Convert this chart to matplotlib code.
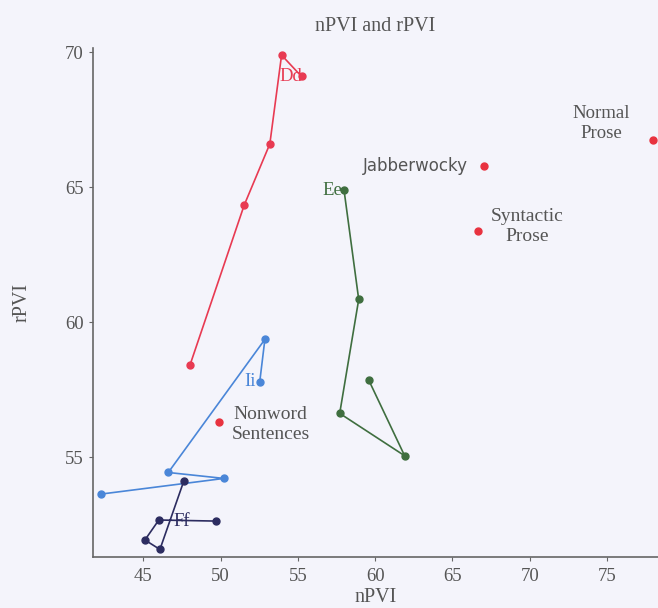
import matplotlib.pyplot as plt

# --- data ---
dd_x = [48.02, 51.53, 53.19, 53.95, 55.24]
dd_y = [58.40, 64.33, 66.60, 69.89, 69.10]

ee_x = [57.99, 58.94, 57.71, 61.91, 59.59]
ee_y = [64.89, 60.84, 56.62, 55.05, 57.85]

ii_x = [52.54, 52.87, 46.62, 50.22, 42.27]
ii_y = [57.80, 59.36, 54.43, 54.21, 53.63]

ff_x = [49.70, 46.01, 45.11, 46.08, 47.63]
ff_y = [52.63, 52.67, 51.93, 51.58, 54.12]

cond_names = ['Jabberwocky', 'Syntactic\nProse', 'Normal\nProse', 'Nonword\nSentences']
cond_x = [67.04, 66.65, 77.97, 49.91]
cond_y = [65.78, 63.37, 66.74, 56.29]

xticks = [45, 50, 55, 60, 65, 70, 75]
yticks = [55, 60, 65, 70]

bg = '#f4f4fb'
txt = '#555555'
serif = 'Liberation Serif'

fig = plt.figure(figsize=(6.58, 6.08), dpi=100, facecolor=bg)
ax = fig.add_axes([0.1413, 0.0839, 0.8587, 0.837], facecolor=bg)

ax.plot(dd_x, dd_y, '-o', color='#e83a52', lw=1.2, ms=5)
ax.plot(ee_x, ee_y, '-o', color='#3f6e3f', lw=1.2, ms=5)
ax.plot(ii_x, ii_y, '-o', color='#4a86d8', lw=1.2, ms=5)
ax.plot(ff_x, ff_y, '-o', color='#2c2c60', lw=1.2, ms=5)
ax.plot(cond_x, cond_y, 'o', color='#e8323f', ms=5, clip_on=False)

# series labels
ax.text(54.55, 69.1, 'Dd', color='#e83a52', fontsize=13.5, family=serif, ha='center', va='center')
ax.text(57.9, 64.89, 'Ee', color='#3f6e3f', fontsize=13.5, family=serif, ha='right', va='center')
ax.text(51.9, 57.8, 'Ii', color='#4a86d8', fontsize=13.5, family=serif, ha='center', va='center')
ax.text(47.5, 52.63, 'Ff', color='#2c2c60', fontsize=13.5, family=serif, ha='center', va='center')

# condition labels
ax.text(66.0, 65.78, cond_names[0], color=txt, fontsize=12, ha='right', va='center')
ax.text(69.85, 63.53, cond_names[1], color=txt, fontsize=14, family=serif, ha='center', va='center', linespacing=1.25)
ax.text(74.63, 67.37, cond_names[2], color=txt, fontsize=13.5, family=serif, ha='center', va='center', linespacing=1.25)
ax.text(53.24, 56.22, cond_names[3], color=txt, fontsize=14, family=serif, ha='center', va='center', linespacing=1.25)

ax.set_xlim(41.75, 78.3)
ax.set_ylim(51.3, 70.15)
ax.set_xticks(xticks)
ax.set_yticks(yticks)
for s in ['top', 'right']:
    ax.spines[s].set_visible(False)
for s in ['left', 'bottom']:
    ax.spines[s].set_color('#666666')
    ax.spines[s].set_linewidth(1.2)
ax.tick_params(colors='#666666', labelcolor=txt, length=3, labelsize=13.5)
ax.tick_params(axis='x', pad=5)
for lab in ax.get_xticklabels() + ax.get_yticklabels():
    lab.set_family(serif)

ax.set_xlabel('nPVI', fontsize=14.5, color=txt, family=serif, labelpad=2)
ax.set_ylabel('rPVI', fontsize=14.5, color=txt, family=serif, labelpad=24)
ax.set_title('nPVI and rPVI', fontsize=14.5, color=txt, family=serif, pad=12)

fig.savefig('out.png', dpi=100, facecolor=bg)
